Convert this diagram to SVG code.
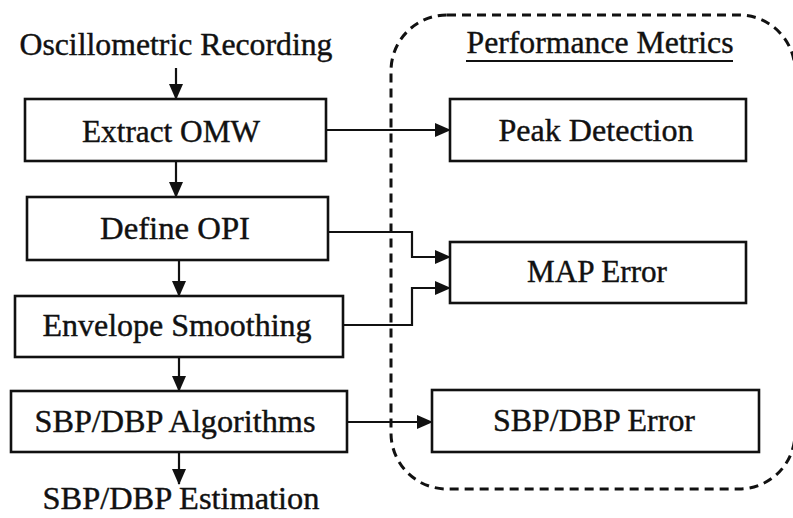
<svg xmlns="http://www.w3.org/2000/svg" width="793" height="518" viewBox="0 0 793 518">
  <style>
    .box { fill: #fff; stroke: #111; stroke-width: 2.6; }
    .lbl { font-family: "Liberation Serif", "Times New Roman", serif; font-size: 31px; fill: #111; stroke: #111; stroke-width: 0.4; text-anchor: middle; }
    .wire { fill: none; stroke: #111; stroke-width: 2.2; }
    .group { fill: none; stroke: #111; stroke-width: 3; stroke-dasharray: 9 6; }
  </style>
  <defs>
    <marker id="arrow" markerWidth="16" markerHeight="14" refX="15" refY="7" orient="auto" markerUnits="userSpaceOnUse">
      <path d="M0,0 L16,7 L0,14 Z" fill="#111"/>
    </marker>
  </defs>
  <rect width="793" height="518" fill="#fff"/>

  <!-- performance metrics region (right edge runs just past the canvas) -->
  <g id="metrics-region">
    <rect class="group" x="391" y="15" width="404" height="474" rx="56" ry="56"/>
    <text class="lbl" x="600" y="53" textLength="267" lengthAdjust="spacingAndGlyphs">Performance Metrics</text>
    <line x1="466" y1="61" x2="733" y2="61" stroke="#111" stroke-width="2"/>
  </g>

  <!-- connectors -->
  <g id="connectors">
    <line class="wire" x1="176" y1="68" x2="176" y2="99" marker-end="url(#arrow)"/>
    <line class="wire" x1="176" y1="161" x2="176" y2="197" marker-end="url(#arrow)"/>
    <line class="wire" x1="179" y1="260" x2="179" y2="296" marker-end="url(#arrow)"/>
    <line class="wire" x1="179" y1="357" x2="179" y2="391" marker-end="url(#arrow)"/>
    <line class="wire" x1="179" y1="452" x2="179" y2="484" marker-end="url(#arrow)"/>
    <line class="wire" x1="326" y1="130" x2="450" y2="130" marker-end="url(#arrow)"/>
    <polyline class="wire" points="328,232 412,232 412,257 450,257" marker-end="url(#arrow)"/>
    <polyline class="wire" points="343,325 412,325 412,288 450,288" marker-end="url(#arrow)"/>
    <line class="wire" x1="347" y1="422" x2="432" y2="422" marker-end="url(#arrow)"/>
  </g>

  <!-- processing chain -->
  <g id="recording">
    <text class="lbl" x="176" y="55" textLength="313" lengthAdjust="spacingAndGlyphs">Oscillometric Recording</text>
  </g>
  <g id="extract-omw">
    <rect class="box" x="25" y="99" width="301" height="62"/>
    <text class="lbl" x="171" y="142" textLength="178" lengthAdjust="spacingAndGlyphs">Extract OMW</text>
  </g>
  <g id="define-opi">
    <rect class="box" x="27" y="197" width="301" height="63"/>
    <text class="lbl" x="175" y="239" textLength="150" lengthAdjust="spacingAndGlyphs">Define OPI</text>
  </g>
  <g id="envelope-smoothing">
    <rect class="box" x="15" y="296" width="328" height="61"/>
    <text class="lbl" x="177" y="336" textLength="269" lengthAdjust="spacingAndGlyphs">Envelope Smoothing</text>
  </g>
  <g id="sbp-dbp-algorithms">
    <rect class="box" x="11" y="391" width="336" height="61"/>
    <text class="lbl" x="175" y="432" textLength="281" lengthAdjust="spacingAndGlyphs">SBP/DBP Algorithms</text>
  </g>
  <g id="estimation">
    <text class="lbl" x="181" y="509" textLength="277" lengthAdjust="spacingAndGlyphs">SBP/DBP Estimation</text>
  </g>

  <!-- metrics -->
  <g id="peak-detection">
    <rect class="box" x="450" y="99" width="296" height="62"/>
    <text class="lbl" x="596" y="141" textLength="195" lengthAdjust="spacingAndGlyphs">Peak Detection</text>
  </g>
  <g id="map-error">
    <rect class="box" x="450" y="242" width="296" height="61"/>
    <text class="lbl" x="597" y="282" textLength="140" lengthAdjust="spacingAndGlyphs">MAP Error</text>
  </g>
  <g id="sbp-dbp-error">
    <rect class="box" x="432" y="390" width="327" height="62"/>
    <text class="lbl" x="594" y="431" textLength="202" lengthAdjust="spacingAndGlyphs">SBP/DBP Error</text>
  </g>
</svg>
